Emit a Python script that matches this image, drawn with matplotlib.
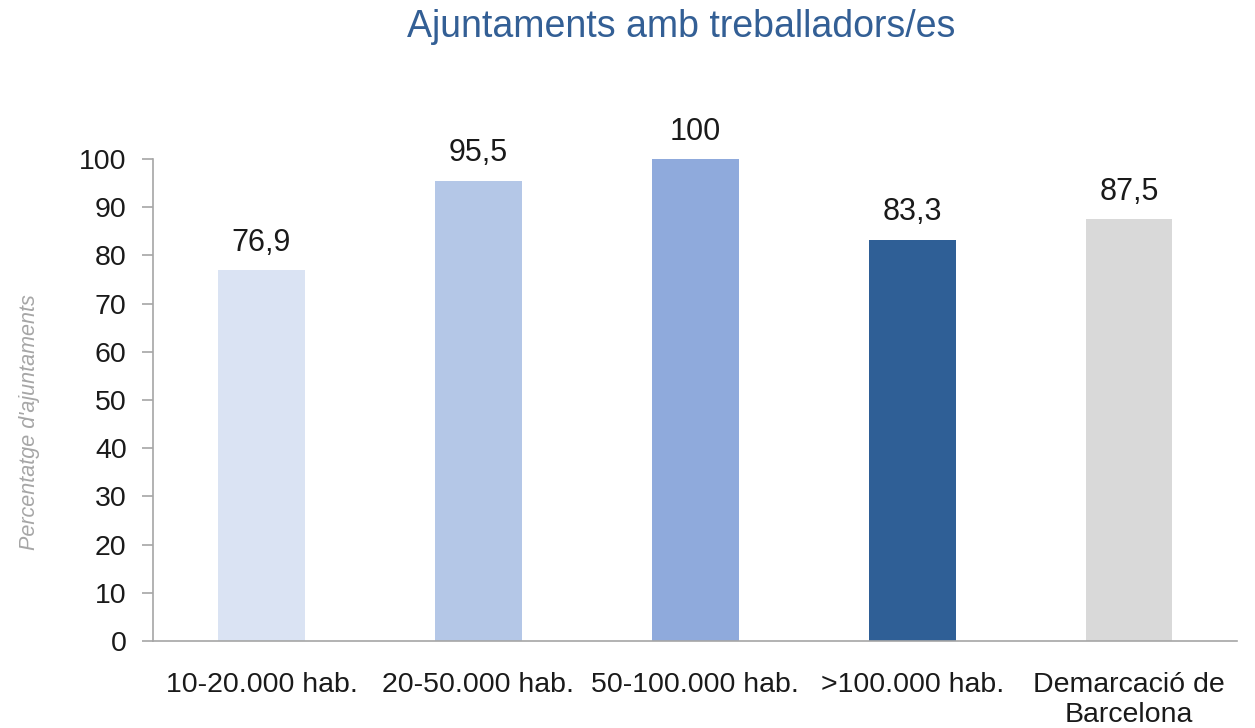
import matplotlib
matplotlib.use("Agg")
import matplotlib.pyplot as plt

categories = ["10-20.000 hab.", "20-50.000 hab.", "50-100.000 hab.", ">100.000 hab.", "Demarcació de\nBarcelona"]
values = [76.9, 95.5, 100, 83.3, 87.5]
labels = ["76,9", "95,5", "100", "83,3", "87,5"]
colors = ["#dae3f3", "#b4c7e7", "#8faadc", "#2f5f96", "#d9d9d9"]

plt.rcParams["font.family"] = ["Liberation Sans", "DejaVu Sans"]

fig = plt.figure(figsize=(12.55, 7.28), dpi=100)
ax = fig.add_axes([0.122, 0.1195, 0.864, 0.662])

x = range(len(categories))
ax.bar(x, values, width=0.4, color=colors)
for xi, v, lab in zip(x, values, labels):
    ax.text(xi, v + 5.7, lab, ha="center", va="center", fontsize=22, color="#1a1a1a",
            clip_on=False)

ax.set_xlim(-0.5, 4.5)
ax.set_ylim(0, 100)
ax.set_yticks(range(0, 101, 10))
ax.set_xticks(list(x))
ax.set_xticklabels(categories, fontsize=20.5, color="#1a1a1a", linespacing=1.2)
ax.tick_params(axis="x", length=0, pad=22)
ax.tick_params(axis="y", length=8, width=1.2, color="#a6a6a6", labelsize=20.5,
               labelcolor="#1a1a1a", pad=11)

for side in ("top", "right"):
    ax.spines[side].set_visible(False)
for side in ("left", "bottom"):
    ax.spines[side].set_color("#a6a6a6")
    ax.spines[side].set_linewidth(1.2)

fig.text(30 / 1255, 1 - 422 / 728, "Percentatge d'ajuntaments", rotation=90,
         ha="center", va="center", fontsize=15.5, style="italic", color="#a6a6a6")
fig.text(0.543, 1 - 27 / 728, "Ajuntaments amb treballadors/es", ha="center", va="center",
         fontsize=27, color="#335f95")

fig.savefig("out.png", dpi=100)
